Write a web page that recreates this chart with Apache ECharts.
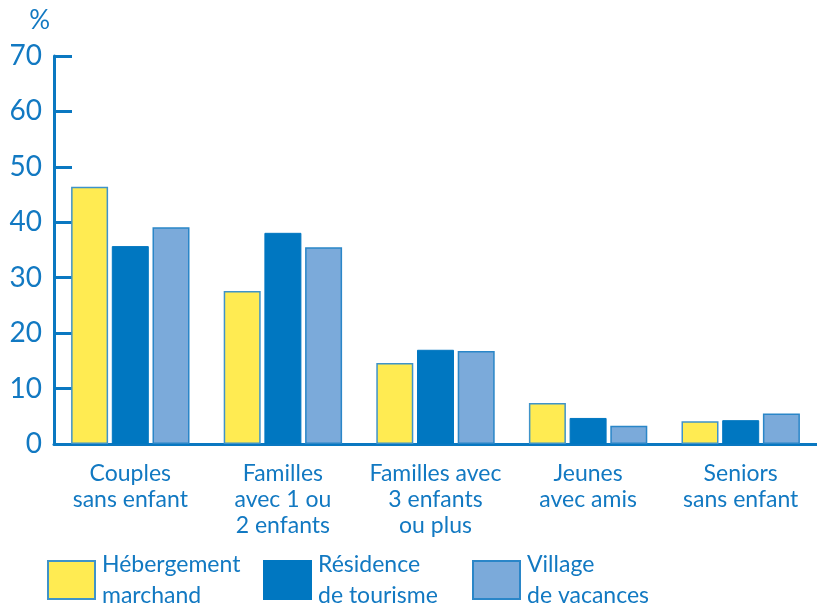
<!DOCTYPE html>
<html><head><meta charset="utf-8">
<script src="https://cdn.jsdelivr.net/npm/echarts@6/dist/echarts.min.js"></script>
<style>html,body{margin:0;padding:0;background:#fff}#c{width:817px;height:603px}</style>
</head><body><div id="c"></div>
<script>
var categories = ['Couples\nsans enfant', 'Familles\navec 1 ou\n2 enfants', 'Familles avec\n3 enfants\nou plus', 'Jeunes\navec amis', 'Seniors\nsans enfant'];
var seriesNames = ['Hébergement marchand', 'Résidence de tourisme', 'Village de vacances'];
var legendLabels = ['Hébergement\nmarchand', 'Résidence\nde tourisme', 'Village\nde vacances'];
var hebergement = [46.4, 27.6, 14.6, 7.4, 4.1];
var residence = [35.7, 38.1, 17.0, 4.7, 4.3];
var village = [39.1, 35.5, 16.8, 3.3, 5.5];
var yTicks = [0, 10, 20, 30, 40, 50, 60, 70];

var BLUE = '#0a78c1';
var TXT = '#1279c2';
var FONT = 'Lato';
var chart = echarts.init(document.getElementById('c'), null, {renderer: 'canvas'});

function legendFor(i, left) {
  return {
    data: [seriesNames[i]], left: left, top: 543, padding: 0, itemWidth: 47, itemHeight: 38, itemGap: 0,
    icon: 'rect', selectedMode: false,
    formatter: function () { return legendLabels[i]; },
    textStyle: {color: TXT, fontFamily: FONT, fontSize: 23, lineHeight: 31, padding: [0, 0, 12, 2]}
  };
}

chart.setOption({
  animation: false,
  textStyle: {fontFamily: FONT},
  grid: {left: 54, right: -4, top: 56, bottom: 159, containLabel: false},
  legend: [legendFor(0, 47), legendFor(1, 263), legendFor(2, 472)],
  xAxis: {
    type: 'category', data: categories,
    axisLine: {lineStyle: {color: BLUE, width: 3}},
    axisTick: {inside: true, length: 7, lineStyle: {color: BLUE, width: 3}},
    axisLabel: {color: TXT, fontSize: 23, lineHeight: 26, margin: 17, fontFamily: FONT, interval: 0}
  },
  yAxis: {
    type: 'value', min: 0, max: 70, interval: 10,
    name: '%', nameLocation: 'end', nameGap: 22,
    nameTextStyle: {color: TXT, fontSize: 26, fontFamily: FONT, align: 'right', padding: [0, 4, 0, 0]},
    axisLine: {show: true, lineStyle: {color: BLUE, width: 3}},
    axisTick: {show: true, inside: true, length: 18, lineStyle: {color: BLUE, width: 3}},
    splitLine: {show: false},
    axisLabel: {color: TXT, fontSize: 28, margin: 12, fontFamily: FONT,
      formatter: function (v) { return yTicks.indexOf(v) >= 0 ? String(v) : ''; }}
  },
  series: [
    {name: seriesNames[0], type: 'bar', data: hebergement, barWidth: 37, barGap: '10%',
     itemStyle: {color: '#ffeb52', borderColor: '#3f93c9', borderWidth: 1.5}},
    {name: seriesNames[1], type: 'bar', data: residence, barWidth: 37, barGap: '10%',
     itemStyle: {color: '#0077c1', borderColor: '#0077c1', borderWidth: 1}},
    {name: seriesNames[2], type: 'bar', data: village, barWidth: 37, barGap: '10%',
     itemStyle: {color: '#7baada', borderColor: '#2a86c8', borderWidth: 1.5}}
  ]
});
</script></body></html>
